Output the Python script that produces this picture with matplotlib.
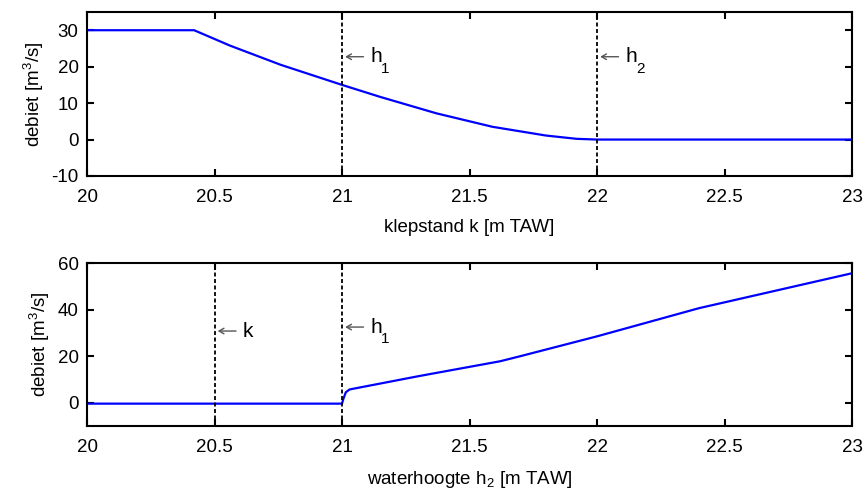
import matplotlib
matplotlib.use("Agg")
import matplotlib.pyplot as plt
from matplotlib.transforms import offset_copy

plt.rcParams['font.family'] = ['Liberation Sans', 'DejaVu Sans']
plt.rcParams['mathtext.fontset'] = 'custom'
plt.rcParams['mathtext.rm'] = 'Liberation Sans'
plt.rcParams['mathtext.it'] = 'Liberation Sans'
plt.rcParams['mathtext.default'] = 'regular'
plt.rcParams['axes.unicode_minus'] = False

# Top panel: debiet vs klepstand k
k_vals = [20.0, 20.42, 20.56, 20.76, 21.0, 21.15, 21.37, 21.59, 21.80, 21.92, 22.0, 23.0]
q_top = [30.0, 30.0, 25.8, 20.5, 15.0, 11.7, 7.2, 3.5, 1.1, 0.2, 0.0, 0.0]
top_vlines = [21.0, 22.0]
top_names = ["h", "h"]
top_subs = ["1", "2"]
top_label_y = [21.2, 21.2]

# Bottom panel: debiet vs waterhoogte h2
h2_vals = [20.0, 21.0, 21.005, 21.015, 21.03, 21.3, 21.62, 21.7, 22.0, 22.4, 23.0]
q_bot = [-0.4, -0.4, 1.5, 4.5, 5.7, 11.4, 17.8, 20.0, 28.5, 40.6, 55.6]
bot_vlines = [20.5, 21.0]
bot_names = ["k", "h"]
bot_subs = ["", "1"]
bot_label_y = [28.4, 30.1]

W, H = 866, 493
fig = plt.figure(figsize=(W/100, H/100), dpi=100)

def pos(l, t, r, b):
    return [l/W, 1-b/H, (r-l)/W, (b-t)/H]

ax1 = fig.add_axes(pos(87, 12, 852, 176))
ax2 = fig.add_axes(pos(87, 263, 852, 426))

fs = 13.5
afs = 15
xticks = [20, 20.5, 21, 21.5, 22, 22.5, 23]
xticklabels = ["20", "20.5", "21", "21.5", "22", "22.5", "23"]

for ax in (ax1, ax2):
    ax.set_xlim(20, 23)
    ax.set_xticks(xticks)
    ax.set_xticklabels(xticklabels)
    ax.tick_params(direction='in', top=True, right=True, length=5, width=1.5,
                   labelsize=fs)
    ax.tick_params(axis='x', pad=9.3)
    ax.tick_params(axis='y', pad=6)
    for s in ax.spines.values():
        s.set_linewidth(1.5)

def mark(ax, xv, yb, name, sub):
    ax.axvline(xv, color='black', lw=1.3, dashes=(2.2, 1.4))
    tip = offset_copy(ax.transData, fig=fig, x=2.3, y=4.0, units='points')
    tail = offset_copy(ax.transData, fig=fig, x=15.5, y=4.0, units='points')
    ax.annotate("", xy=(xv, yb), xycoords=tip, xytext=(xv, yb), textcoords=tail,
                arrowprops=dict(arrowstyle='->,head_length=0.35,head_width=0.2',
                                color='#555555', lw=1.0, shrinkA=0, shrinkB=0))
    ax.annotate(name, xy=(xv, yb), xytext=(20.5, 0), textcoords='offset points',
                fontsize=afs, va='baseline', ha='left')
    if sub:
        ax.annotate(sub, xy=(xv, yb), xytext=(28.0, -7.5), textcoords='offset points',
                    fontsize=11, va='baseline', ha='left')

ax1.plot(k_vals, q_top, color='#0000ff', lw=1.6)
ax1.set_ylim(-10, 35)
ax1.set_yticks([-10, 0, 10, 20, 30])
for xv, yb, nm, sb in zip(top_vlines, top_label_y, top_names, top_subs):
    mark(ax1, xv, yb, nm, sb)
ax1.set_xlabel("klepstand k [m TAW]", fontsize=fs, labelpad=9.5)
ax1.set_ylabel("debiet [m$^3$/s]", fontsize=fs, labelpad=4)

ax2.plot(h2_vals, q_bot, color='#0000ff', lw=1.6)
ax2.set_ylim(-10, 60)
ax2.set_yticks([0, 20, 40, 60])
for xv, yb, nm, sb in zip(bot_vlines, bot_label_y, bot_names, bot_subs):
    mark(ax2, xv, yb, nm, sb)
ax2.set_xlabel("waterhoogte h$_2$ [m TAW]", fontsize=fs, labelpad=9.5)
ax2.set_ylabel("debiet [m$^3$/s]", fontsize=fs, labelpad=4)

fig.savefig("out.png", dpi=100)
